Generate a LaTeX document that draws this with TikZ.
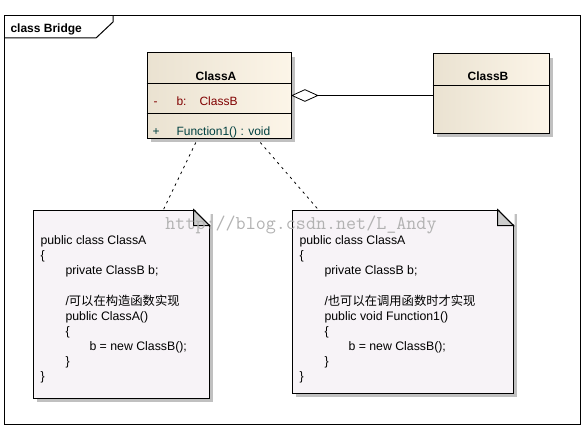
\documentclass[tikz,border=0pt]{standalone}
\usepackage{fontspec}
\setmainfont{Liberation Sans}
\newfontfamily\cjk{Noto Sans CJK SC}
\usepackage{xcolor}
\usetikzlibrary{calc, shapes.geometric, shadows, positioning}

\definecolor{classleft}{HTML}{EAE2D1}
\definecolor{classright}{HTML}{FCF5E8}
\definecolor{notefill}{HTML}{F7F3F7}
\definecolor{shadowgray}{HTML}{C0C0C0}
\definecolor{attrred}{HTML}{800000}
\definecolor{opteal}{HTML}{004040}

\begin{document}
\begin{tikzpicture}[x=1pt, y=-1pt, line width=1pt, every node/.style={font=\fontsize{12}{15}\selectfont}]
    % Define styles for classes, notes and links
    \tikzstyle{umlclass} = [draw, rectangle, left color=classleft, right color=classright, inner sep=0pt, drop shadow={shadow xshift=4pt, shadow yshift=-4pt, fill=shadowgray, opacity=1}]
    \tikzstyle{umlnote} = [draw, rectangle, fill=notefill, inner sep=0pt, drop shadow={shadow xshift=4pt, shadow yshift=-4pt, fill=shadowgray, opacity=1}]
    \tikzstyle{code} = [anchor=north west, align=left, inner sep=0pt, font=\fontsize{12.3}{15}\selectfont]
    \tikzstyle{member} = [anchor=base west, inner sep=0pt]
    \tikzstyle{notelink} = [draw, line width=0.8pt, dash pattern=on 2.5pt off 4pt]
    \useasboundingbox (0,0) rectangle (586,428);

    % Diagram frame with its tab
    \draw (4,16) rectangle (580,424);
    \draw (4,38) -- (96,38) -- (113,22) -- (113,16);
    \node [member, font=\fontsize{12}{15}\selectfont\bfseries] (framelabel) at (10,33) {class Bridge};

    % Class boxes
    \node [umlclass, minimum width=144pt, minimum height=85pt] (classA) at (219,95.5) {};
    \node [umlclass, minimum width=116pt, minimum height=79pt, right of=classA, node distance=272pt, yshift=2pt] (classB) {};
    \draw ($(classA.north west)+(0,31)$) coordinate (sepA1) -- (sepA1 -| classA.east);
    \draw ($(classA.north west)+(0,61)$) coordinate (sepA2) -- (sepA2 -| classA.east);
    \draw ($(classB.north west)+(0,32)$) coordinate (sepB) -- (sepB -| classB.east);

    % Class texts
    \node [font=\fontsize{12}{15}\selectfont\bfseries, anchor=base] (classAname) at (216,81) {ClassA};
    \node [font=\fontsize{12}{15}\selectfont\bfseries, anchor=base] (classBname) at (488,81) {ClassB};
    \node [member, text=attrred] (attrvis) at (153,105) {-};
    \node [member, text=attrred] (attrname) at (176,105) {b:};
    \node [member, text=attrred] (attrtype) at (199,105) {ClassB};
    \node [member, text=opteal] (opvis) at (152,135) {+};
    \node [member, text=opteal] (opname) at (176,135) {Function1() : void};

    % Aggregation from ClassA to ClassB
    \node [draw, diamond, fill=white, line width=0.8pt, minimum width=26pt, minimum height=12pt, inner sep=0pt, anchor=west] (aggr) at (classA.east) {};
    \draw (aggr.east) -- (aggr.east -| classB.west);

    % Notes
    \node [umlnote, minimum width=176pt, minimum height=188pt] (noteleft) at (121,304) {};
    \node [umlnote, minimum width=221pt, minimum height=183pt] (noteright) at (402.5,301.5) {};
    \foreach \n in {noteleft, noteright} {
        \fill [white] ($(\n.north east)+(-16,-1)$) -- ($(\n.north east)+(1,-1)$) -- ($(\n.north east)+(1,16)$) -- cycle;
        \draw [fill=shadowgray!80] ($(\n.north east)+(-16,0)$) -- ($(\n.north east)+(0,16)$) -- ($(\n.north east)+(-16,16)$) -- cycle;
        \draw ($(\n.north east)+(-16,0)$) -- ($(\n.north east)+(0,16)$) -- ($(\n.north east)+(0,17)$);
    }

    % Code inside the notes
    \node [code] (codeleft) at (40,235.5) {public class ClassA\\
        \{\\
        \hspace*{25pt}private ClassB b;\\[16pt]
        \hspace*{25pt}/{\cjk 可以在构造函数实现}\\
        \hspace*{25pt}public ClassA()\\
        \hspace*{25pt}\{\\
        \hspace*{49pt}b = new ClassB();\\
        \hspace*{25pt}\}\\
        \}};
    \node [code] (coderight) at (299,235.5) {public class ClassA\\
        \{\\
        \hspace*{25pt}private ClassB b;\\[16pt]
        \hspace*{25pt}/{\cjk 也可以在调用函数时才实现}\\
        \hspace*{25pt}public void Function1()\\
        \hspace*{25pt}\{\\
        \hspace*{49pt}b = new ClassB();\\
        \hspace*{25pt}\}\\
        \}};

    % Note links
    \draw [notelink] ($(classA.south west)!0.34!(classA.south east)+(0,4)$) -- ($(noteleft.north west)!0.74!(noteleft.north east)$);
    \draw [notelink] ($(classA.south west)!0.785!(classA.south east)+(0,4)$) -- ($(noteright.north west)!0.12!(noteright.north east)$);

    % Watermark
    \node [font=\ttfamily\fontsize{19.5}{20}\selectfont, text=black!30, inner sep=0pt] (watermark) at (301,225) {http://blog.csdn.net/L\_Andy};
\end{tikzpicture}
\end{document}
